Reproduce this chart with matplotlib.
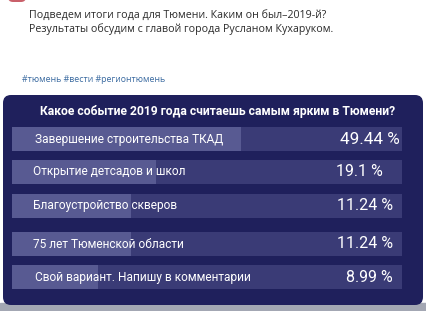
import matplotlib
matplotlib.use("Agg")
import matplotlib.pyplot as plt
from matplotlib.patches import FancyBboxPatch, Rectangle

# poll data
post_lines = ["Подведем итоги года для Тюмени. Каким он был–2019-й?",
              "Результаты обсудим с главой города Русланом Кухаруком."]
hashtags = "#тюмень #вести #регионтюмень"
question = "Какое событие 2019 года считаешь самым ярким в Тюмени?"
options = ["Завершение строительства ТКАД",
           "Открытие детсадов и школ",
           "Благоустройство скверов",
           "75 лет Тюменской области",
           "Свой вариант. Напишу в комментарии"]
percent_labels = ["49.44 %", "19.1 %", "11.24 %", "11.24 %", "8.99 %"]
# visible fill length of each bar, % of the track (as drawn in the screenshot)
fill_share = [58.7, 37.0, 30.5, 30.5, 22.0]

plt.rcParams['font.family'] = ['Open Sans', 'DejaVu Sans']
poll_font = ['Roboto', 'DejaVu Sans']

W, H = 426, 311
fig = plt.figure(figsize=(W / 100, H / 100), dpi=100)
fig.patch.set_facecolor('white')

# background axes in pixel coordinates
bg = fig.add_axes([0, 0, 1, 1])
bg.set_xlim(0, W)
bg.set_ylim(H, 0)
bg.axis('off')

navy = '#1f205c'
track = '#3a3b76'
fill = '#585a92'

bg.add_patch(Rectangle((0, 303), W, 8, color='#a3a7b3', zorder=0))
bg.add_patch(FancyBboxPatch((3, 95), 420, 210, boxstyle="round,pad=0,rounding_size=8",
                            facecolor=navy, edgecolor='none', zorder=1))
bg.add_patch(FancyBboxPatch((8, -8), 18, 10, boxstyle="round,pad=0,rounding_size=5",
                            facecolor='#c9606a', edgecolor='none', zorder=1))

for i, line in enumerate(post_lines):
    bg.text(29, 15 + i * 14, line, fontsize=7.7, color='#2b2b2b', va='center', ha='left')
bg.text(22, 79, hashtags, fontsize=6.3, color='#3a6aa0', va='center', ha='left')
bg.text(218, 111, question, fontsize=8.7, fontweight='bold', color='white',
        va='center', ha='center', zorder=3, family=poll_font)

# bar rows (pixel centres of each row in the screenshot)
row_y = [139, 172, 206, 244, 277]
row_h = 24
x0, x1 = 12, 402

ax = fig.add_axes([x0 / W, 1 - 290 / H, (x1 - x0) / W, (290 - 126) / H])
ax.set_xlim(0, 100)
ax.set_ylim(290, 126)
ax.axis('off')
ax.patch.set_alpha(0)

ax.barh(row_y, [100] * len(options), height=row_h, color=track, zorder=1)
ax.barh(row_y, fill_share, height=row_h, color=fill, zorder=2)

# labels go on the figure so they sit above the bars
label_x = [35, 33, 33, 33, 35]
pct_x = [400, 383, 393, 393, 393]
pct_size = [12.3, 11.5, 11.5, 11.5, 11.5]
for i, (name, pct) in enumerate(zip(options, percent_labels)):
    fig.text(label_x[i], row_y[i], name, fontsize=8.6, color='white', va='center',
             ha='left', transform=bg.transData, family=poll_font)
    fig.text(pct_x[i], row_y[i], pct, fontsize=pct_size[i], color='white', va='center',
             ha='right', transform=bg.transData, family=poll_font)

fig.savefig("out.png", dpi=100, facecolor='white')
